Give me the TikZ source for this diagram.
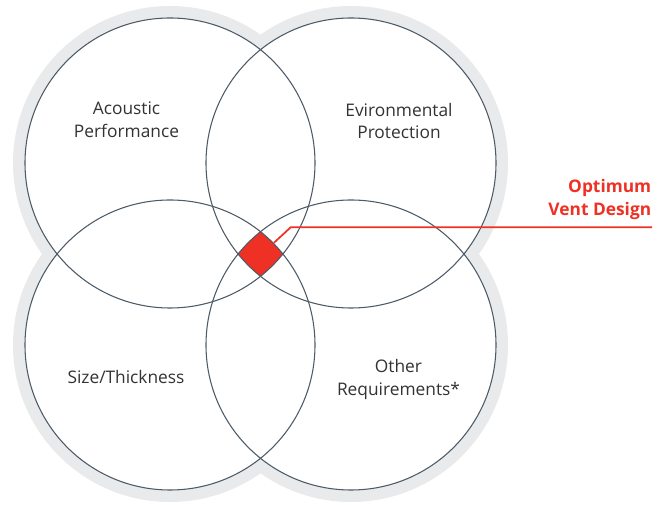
\documentclass[tikz,border=0pt]{standalone}
\usepackage{fontspec}
\setmainfont{Open Sans}
\definecolor{ringgray}{HTML}{E9EAEC}
\definecolor{ringline}{HTML}{4D5B67}
\definecolor{ventred}{HTML}{EE3124}
\definecolor{labelgray}{HTML}{333333}
\tikzset{
  ring/.style={draw=ringline,line width=0.8pt},
  lbl/.style={text=labelgray,align=center,inner sep=0pt,font=\fontsize{13}{17}\selectfont},
  optlbl/.style={text=ventred,align=right,inner sep=0pt,font=\fontsize{13}{17}\selectfont\bfseries},
}
\begin{document}
\begin{tikzpicture}[x=0.75pt,y=-0.75pt]
  \useasboundingbox (0,0) rectangle (665,505);
  \coordinate (acoustic) at (170,163);
  \coordinate (environ) at (351,163);
  \coordinate (size) at (170,345);
  \coordinate (other) at (351,345);
  \foreach \c in {acoustic,environ,size,other} \fill[ringgray] (\c) circle (117.75pt);
  \foreach \c in {acoustic,environ,size,other} \fill[white] (\c) circle (108.75pt);
  \begin{scope}
    \clip (acoustic) circle (108.75pt);
    \clip (environ) circle (108.75pt);
    \clip (size) circle (108.75pt);
    \fill[ventred] (other) circle (108.75pt);
  \end{scope}
  \foreach \c in {acoustic,environ,size,other} \draw[ring] (\c) circle (108.75pt);
  \node[lbl] (acousticlbl) at (126.5,120) {Acoustic\\Performance};
  \node[lbl] (environlbl) at (399,121) {Evironmental\\Protection};
  \node[lbl] (sizelbl) at (126,377.5) {Size/Thickness};
  \node[lbl] (otherlbl) at (398.5,379.3) {Other\\Requirements*};
  \coordinate (venttap) at (274,242.7);
  \coordinate (ventbend) at (290.7,227.3);
  \coordinate (ventend) at (652,227.3);
  \draw[ventred,line width=1.3pt] (venttap) -- (ventbend) -- (ventend);
  \node[optlbl,anchor=south east] (optimum) at (651.5,220) {Optimum\\Vent Design};
\end{tikzpicture}
\end{document}
